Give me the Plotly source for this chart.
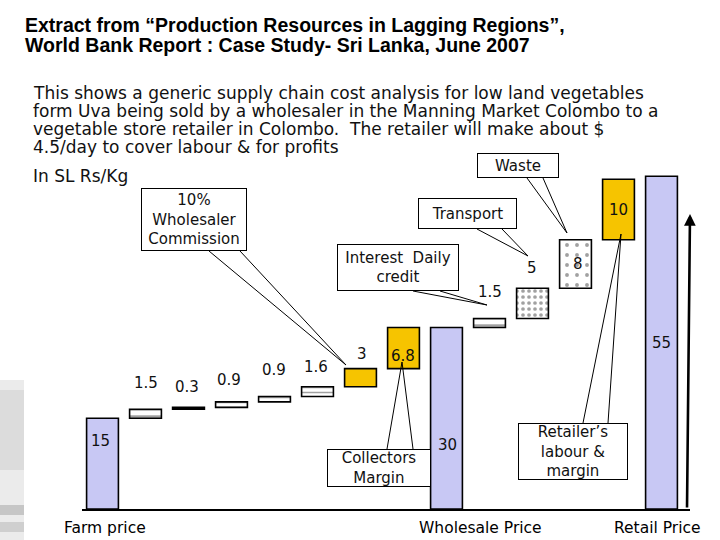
import plotly.graph_objects as go

# ---------------- data ----------------
stages = ["Farm price", "Transport to collector", "Packing", "Loading", "Unloading",
          "Other costs", "Wholesaler commission", "Collectors margin", "Wholesale price",
          "Interest daily credit", "Transport", "Waste", "Retailer's labour & margin",
          "Retail price"]
values = [15, 1.5, 0.3, 0.9, 0.9, 1.6, 3, 6.8, 30, 1.5, 5, 8, 10, 55]
is_total = [True, False, False, False, False, False, False, False, True,
            False, False, False, False, True]
value_labels = ["15", "1.5", "0.3", "0.9", "0.9", "1.6", "3", "6.8", "30",
                "1.5", "5", "8", "10", "55"]
axis_labels = ["Farm price", "Wholesale Price", "Retail Price"]
title_lines = ["Extract from “Production Resources in Lagging Regions”,",
               "World Bank Report : Case Study- Sri Lanka, June 2007"]
desc_lines = ["This shows a generic supply chain cost analysis for low land vegetables",
              "form Uva being sold by a wholesaler in the Manning Market Colombo to a",
              "vegetable store retailer in Colombo.  The retailer will make about $",
              "4.5/day to cover labour & for profits"]
unit_label = "In SL Rs/Kg"
callouts = ["10%<br>Wholesaler<br>Commission", "Interest  Daily<br>credit", "Transport",
            "Waste", "Collectors<br>Margin", "Retailer’s<br>labour &<br>margin"]

# ---------------- styles ----------------
LAV = "#C8C8F4"
YEL = "#F6C400"
fill = [LAV, "white", "black", "white", "white", "white", YEL, YEL, LAV,
        "white", "white", "white", YEL, LAV]
pshape = ["", "-", "", "-", "-", "-", "", "", "", "-", ".", ".", "", ""]
psize = [6, 7, 6, 5, 5, 5, 6, 6, 6, 7, 6, 10, 6, 6]
psol = [0.3, 0.35, 0.3, 0.3, 0.3, 0.3, 0.3, 0.3, 0.3, 0.35, 0.3, 0.12, 0.3, 0.3]
# label placement: inside bars (fraction of bar height) or above top (pixel shift)
label_mode = ["in", "up", "up", "up", "up", "up", "up", "in", "in",
              "up", "up", "in", "in", "in"]
label_pos = [0.75, 26, 20, 22, 26, 20, 15, 0.3, 0.35, 26, 20, 0.5, 0.5, 0.5]
label_dx = [-2, 0, -2, -3, -1, -2, 1, -1, 1, 0, -1, 2, 0, 0]

W, H = 720, 540
PX0, PXSTEP = 102.5, 43.0       # pixel centre of first bar, bar spacing
Y0, PXUNIT = 509.0, 6.05        # baseline pixel, pixels per Rs

# waterfall bases
bases, tops = [], []
cum = 0
for v, t in zip(values, is_total):
    if t:
        bases.append(0)
        cum = v
    else:
        bases.append(cum)
        cum += v
    tops.append(bases[-1] + v)

xs = list(range(len(values)))

fig = go.Figure()
fig.add_trace(go.Bar(
    x=xs, y=values, base=bases, width=0.74,
    marker=dict(color=fill, line=dict(color="black", width=1.6),
                pattern=dict(shape=pshape, size=psize, solidity=psol,
                             fgcolor="black", fillmode="overlay")),
    hoverinfo="skip", showlegend=False,
))

def P(x, y):
    return x / W, 1 - y / H

dom_x = (82, 690)
dom_y_bottom = H - Y0
fig.update_layout(
    width=W, height=H, margin=dict(l=0, r=0, t=0, b=0),
    paper_bgcolor="white", plot_bgcolor="white",
    xaxis=dict(domain=[dom_x[0] / W, dom_x[1] / W],
               range=[(dom_x[0] - PX0) / PXSTEP, (dom_x[1] - PX0) / PXSTEP],
               showline=True, linecolor="black", linewidth=1.5,
               showgrid=False, zeroline=False, showticklabels=False, ticks=""),
    yaxis=dict(domain=[dom_y_bottom / H, 1], range=[0, Y0 / PXUNIT],
               visible=False, showgrid=False, zeroline=False),
    font=dict(family="DejaVu Sans", color="black"),
)

ann = []
NUMFONT = dict(family="DejaVu Sans", size=15, color="#111")
for i, (lab, m, p, dx) in enumerate(zip(value_labels, label_mode, label_pos, label_dx)):
    if m == "in":
        ann.append(dict(x=i, y=bases[i] + values[i] * p, text=lab, showarrow=False,
                        xshift=dx, font=NUMFONT))
    else:
        ann.append(dict(x=i, y=tops[i], text=lab, showarrow=False, yshift=p,
                        xshift=dx, font=NUMFONT))

# category labels under the axis
for lab, idx, dx in zip(axis_labels, [0, 8, 13], [2, 34, -4]):
    ann.append(dict(x=idx, y=0, text=lab, showarrow=False, yanchor="middle",
                    yshift=-19, xshift=dx, font=dict(family="DejaVu Sans", size=15.5)))

# title
for k, line in enumerate(title_lines):
    x, y = P(23, 25 + 20 * k)
    ann.append(dict(xref="paper", yref="paper", x=x, y=y, text="<b>" + line + "</b>",
                    showarrow=False, xanchor="left", yanchor="middle",
                    font=dict(family="Liberation Sans", size=19.5, color="black")))
# description
DESCFONT = dict(family="DejaVu Sans", size=17, color="#111")
for k, line in enumerate(desc_lines):
    x, y = P(31, 93 + 18 * k)
    ann.append(dict(xref="paper", yref="paper", x=x, y=y, text=line, showarrow=False,
                    xanchor="left", yanchor="middle", font=DESCFONT))
x, y = P(31, 176)
ann.append(dict(xref="paper", yref="paper", x=x, y=y, text=unit_label, showarrow=False,
                xanchor="left", yanchor="middle", font=DESCFONT))

# callout boxes: (x0, y0, x1, y1) in pixels, wedge base points and tip
boxes = [(141, 188, 247, 251), (337, 244, 459, 291), (418, 198, 517, 229),
         (477, 153, 559, 178), (327, 449, 431, 487), (518, 423, 628, 480)]
wedges = [((209, 251), (240, 251), (346, 365)),
          ((413, 291), (440, 291), (487, 305)),
          ((477, 229), (502, 229), (528, 256)),
          ((527, 178), (543, 178), (567, 233)),
          ((387, 449), (413, 449), (402, 362)),
          ((583, 423), (608, 423), (621, 234))]
shapes = []
for (a, b, tip) in wedges:
    pa, pb, pt = P(*a), P(*b), P(*tip)
    shapes.append(dict(type="path", xref="paper", yref="paper",
                       path=f"M {pa[0]} {pa[1]} L {pt[0]} {pt[1]} L {pb[0]} {pb[1]}",
                       line=dict(color="black", width=1)))
for txt, (x0, y0, x1, y1) in zip(callouts, boxes):
    cx, cy = P((x0 + x1) / 2, (y0 + y1) / 2)
    ann.append(dict(xref="paper", yref="paper", x=cx, y=cy, text=txt, showarrow=False,
                    xanchor="center", yanchor="middle", width=x1 - x0 - 2,
                    height=y1 - y0 - 2, borderpad=0, bordercolor="black", borderwidth=1,
                    bgcolor="white", align="center",
                    font=dict(family="DejaVu Sans", size=15, color="#111")))

# vertical arrow at the right
ax_, ay_ = P(690, 214)
ann.append(dict(xref="paper", yref="paper", x=ax_, y=ay_, ax=-3, ay=295, text="",
                showarrow=True, arrowhead=2, arrowsize=0.9, arrowwidth=2.6,
                arrowcolor="black"))

# faded photo strip at far left
for (y0, y1, col) in [(380, 540, "#e6e6e6"), (390, 470, "#d8d8d8"),
                      (505, 515, "#bdbdbd"), (522, 532, "#c8c8c8")]:
    a0, b0 = P(0, y0)
    a1, b1 = P(24, y1)
    shapes.append(dict(type="rect", xref="paper", yref="paper", x0=a0, y0=b1,
                       x1=a1, y1=b0, fillcolor=col, line=dict(width=0),
                       layer="below", opacity=0.8))

fig.update_layout(annotations=ann, shapes=shapes)
fig.write_html("out.html", config={"displayModeBar": False},
               post_script="document.body.style.margin='0';document.body.style.overflow='hidden';")
